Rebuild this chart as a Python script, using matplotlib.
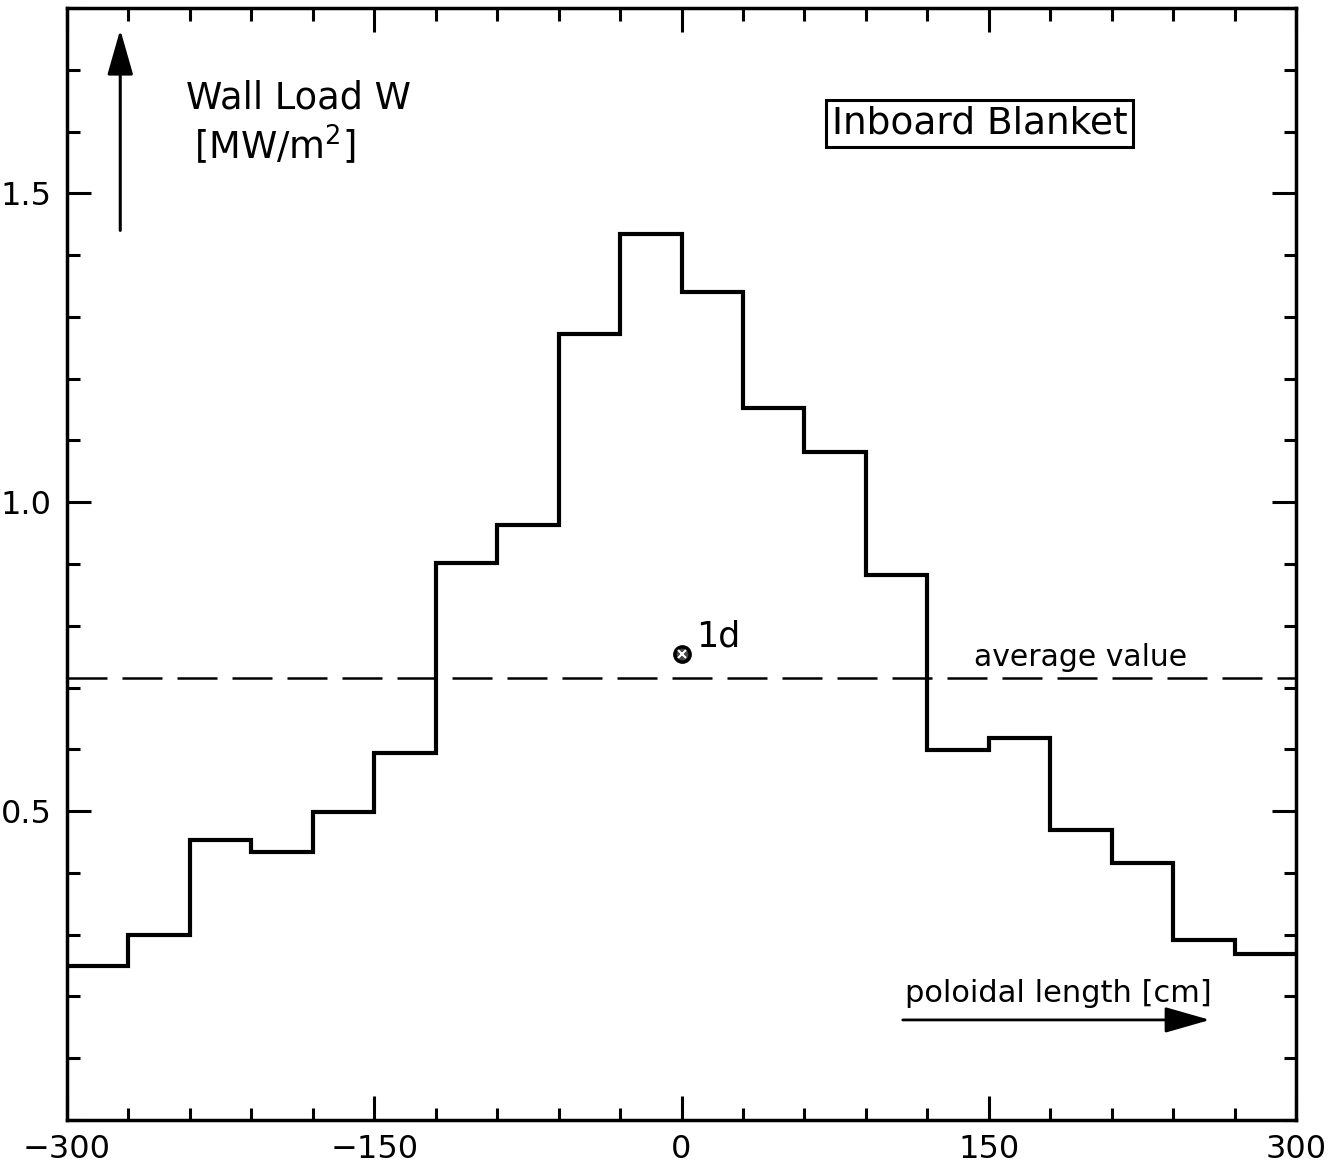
import matplotlib
matplotlib.use("Agg")
import matplotlib.pyplot as plt
from matplotlib.ticker import MultipleLocator, FixedLocator

plt.rcParams['font.family'] = ['DejaVu Sans']

# ---- data ----
bin_edges = [-300, -270, -240, -210, -180, -150, -120, -90, -60, -30, 0,
             30, 60, 90, 120, 150, 180, 210, 240, 270, 300]
wall_load = [0.249, 0.299, 0.453, 0.434, 0.498, 0.594, 0.901, 0.963, 1.273, 1.434,
             1.341, 1.152, 1.081, 0.882, 0.599, 0.618, 0.469, 0.416, 0.291, 0.269]
average_value = 0.715
point_x = [0]
point_y = [0.754]
point_label = "1d"
x_ticklabels = ["\u2212300", "\u2212150", "0", "150", "300"]
x_major = [-300, -150, 0, 150, 300]
y_major = [0.5, 1.0, 1.5]
y_ticklabels = ["0.5", "1.0", "1.5"]

fig = plt.figure(figsize=(13.31, 11.75), dpi=100)
ax = fig.add_axes([67/1331, 1 - 1120/1175, (1296 - 67)/1331, (1120 - 8)/1175])

ax.stairs(wall_load, bin_edges, color='black', linewidth=3.0, baseline=None)
ax.axhline(average_value, color='black', linewidth=1.8, dashes=(16, 6))

ax.plot(point_x, point_y, marker='o', markersize=11, markerfacecolor='#444444',
        markeredgecolor='black', markeredgewidth=2.5, linestyle='none', zorder=5)
ax.plot(point_x, point_y, marker='x', markersize=6, color='white',
        markeredgewidth=1.5, linestyle='none', zorder=6)
ax.text(point_x[0] + 7, point_y[0] + 0.028, point_label, fontsize=25,
        ha='left', va='center')

ax.set_xlim(-300, 300)
ax.set_ylim(0, 1.8)

ax.xaxis.set_major_locator(FixedLocator(x_major))
ax.set_xticklabels(x_ticklabels)
ax.xaxis.set_minor_locator(MultipleLocator(30))
ax.yaxis.set_major_locator(FixedLocator(y_major))
ax.set_yticklabels(y_ticklabels)
ax.yaxis.set_minor_locator(MultipleLocator(0.1))

ax.tick_params(which='both', direction='in', top=True, right=True,
               width=2.2, labelsize=23, colors='black')
ax.tick_params(which='major', length=17)
ax.tick_params(which='minor', length=9)
ax.tick_params(axis='x', which='major', pad=10)
ax.tick_params(axis='y', which='major', pad=11)
for sp in ax.spines.values():
    sp.set_linewidth(2.5)

arrow_style = '-|>,head_length=1.4,head_width=0.4'

# axis labels / annotations
ax.annotate('', xy=(-274, 1.765), xytext=(-274, 1.44),
            arrowprops=dict(arrowstyle=arrow_style, mutation_scale=20,
                            color='black', lw=2.2, shrinkA=0, shrinkB=0))
ax.text(-242, 1.655, "Wall Load W", fontsize=26.5, ha='left', va='center')
ax.text(-238, 1.578, "[MW/m$^2$]", fontsize=26.5, ha='left', va='center')

ax.text(145.5, 1.613, "Inboard Blanket", fontsize=27, ha='center', va='center',
        bbox=dict(boxstyle='square,pad=0.15', facecolor='white',
                  edgecolor='black', linewidth=2.2))

ax.text(143, 0.748, "average value", fontsize=21.5, ha='left', va='center')

ax.text(109, 0.205, "poloidal length [cm]", fontsize=22, ha='left', va='center')
ax.annotate('', xy=(258, 0.162), xytext=(108, 0.162),
            arrowprops=dict(arrowstyle=arrow_style, mutation_scale=20,
                            color='black', lw=2.0, shrinkA=0, shrinkB=0))

fig.savefig("out.png", dpi=100, facecolor='white')
